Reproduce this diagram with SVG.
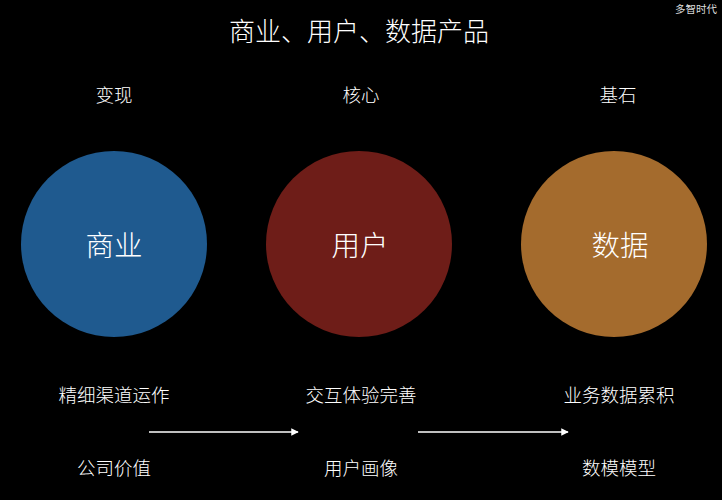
<svg xmlns="http://www.w3.org/2000/svg" width="722" height="500" viewBox="0 0 722 500">
<style>
.t{font-family:"Noto Sans CJK SC","Noto Sans",sans-serif;fill:#ffffff;text-anchor:middle;dominant-baseline:central;font-weight:300}
.s{font-size:18.5px}
.c{font-size:28.5px}
.a{stroke:#ffffff;stroke-width:1.5;fill:none;marker-end:url(#ah)}
</style>
<defs>
<marker id="ah" viewBox="0 0 10 10" refX="9" refY="5" markerWidth="5" markerHeight="5" orient="auto" markerUnits="strokeWidth">
<path d="M0,0 L10,5 L0,10 z" fill="#ffffff"/>
</marker>
</defs>
<rect width="722" height="500" fill="#000000"/>
<text class="t" x="359" y="29" font-size="26">商业、用户、数据产品</text>
<text x="717" y="8" font-family="Noto Sans CJK SC,serif" font-size="10.5" fill="#dddddd" text-anchor="end" dominant-baseline="central">多智时代</text>
<g id="node-biz">
<text class="t s" x="114" y="94">变现</text>
<circle cx="114" cy="244" r="93" fill="#1f5a8f"/>
<text class="t c" x="114" y="243">商业</text>
<text class="t s" x="114" y="394">精细渠道运作</text>
<text class="t s" x="114" y="467">公司价值</text>
</g>
<g id="node-user">
<text class="t s" x="361" y="94">核心</text>
<circle cx="359" cy="244" r="93" fill="#6e1d18"/>
<text class="t c" x="360" y="243">用户</text>
<text class="t s" x="361" y="394">交互体验完善</text>
<text class="t s" x="361" y="467">用户画像</text>
</g>
<g id="node-data">
<text class="t s" x="618" y="94">基石</text>
<circle cx="614" cy="244" r="93" fill="#a46b2d"/>
<text class="t c" x="620" y="243">数据</text>
<text class="t s" x="619" y="394">业务数据累积</text>
<text class="t s" x="619" y="467">数模模型</text>
</g>
<g id="connectors">
<line class="a" x1="149" y1="432" x2="298" y2="432"/>
<line class="a" x1="418" y1="432" x2="568" y2="432"/>
</g>
</svg>
